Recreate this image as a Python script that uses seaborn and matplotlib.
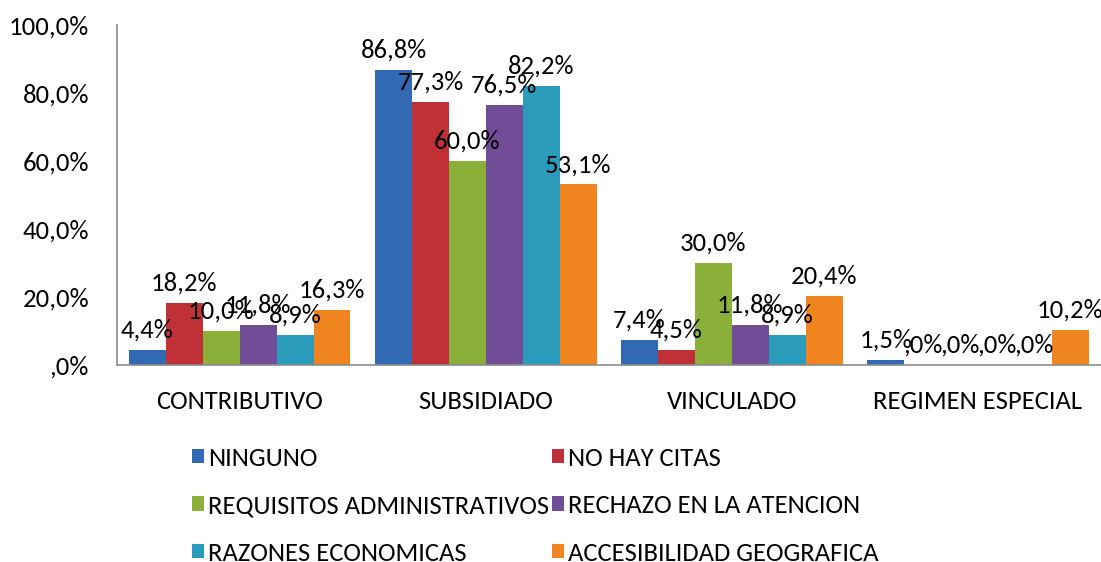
import matplotlib
matplotlib.use("Agg")
import matplotlib.pyplot as plt
import pandas as pd
import seaborn as sns

# ── data ─────────────────────────────────────────────────────────────────────
CATEGORIES = ["CONTRIBUTIVO", "SUBSIDIADO", "VINCULADO", "REGIMEN ESPECIAL"]
SERIES = ["NINGUNO", "NO HAY CITAS", "REQUISITOS ADMINISTRATIVOS",
          "RECHAZO EN LA ATENCION", "RAZONES ECONOMICAS", "ACCESIBILIDAD GEOGRAFICA"]
NINGUNO = [4.4, 86.8, 7.4, 1.5]
NO_HAY_CITAS = [18.2, 77.3, 4.5, 0.0]
REQUISITOS = [10.0, 60.0, 30.0, 0.0]
RECHAZO = [11.8, 76.5, 11.8, 0.0]
RAZONES = [8.9, 82.2, 8.9, 0.0]
ACCESIBILIDAD = [16.3, 53.1, 20.4, 10.2]
Y_TICKS = [0, 20, 40, 60, 80, 100]

COLORS = ["#3169b2", "#bf3136", "#8ab03a", "#704d96", "#2a9bbb", "#f0841f"]


def fmt_pct(v: float) -> str:
    s = f"{v:.1f}".replace(".", ",")
    if s.startswith("0,"):
        s = s[1:]
    return s + "%"


values = [NINGUNO, NO_HAY_CITAS, REQUISITOS, RECHAZO, RAZONES, ACCESIBILIDAD]
rows = []
for name, vals in zip(SERIES, values):
    for cat, v in zip(CATEGORIES, vals):
        rows.append({"categoria": cat, "serie": name, "valor": v})
df = pd.DataFrame(rows)

# ── plot ─────────────────────────────────────────────────────────────────────
sns.set_style("white")
plt.rcParams["font.family"] = ["Carlito", "Liberation Sans", "DejaVu Sans"]
FS = 19.2

fig = plt.figure(figsize=(11.01, 5.62), dpi=100)
ax = fig.add_axes([0.106, 0.3505, 0.894, 0.605])

sns.barplot(data=df, x="categoria", y="valor", hue="serie",
            order=CATEGORIES, hue_order=SERIES, palette=COLORS,
            width=0.9, gap=0, edgecolor="none", saturation=1,
            errorbar=None, ax=ax)

for container in ax.containers:
    labels = [fmt_pct(b.get_height()) for b in container]
    ax.bar_label(container, labels=labels, padding=6, fontsize=FS, color="black")

ax.set_xlim(-0.5, 3.5)
ax.set_ylim(0, 100)
ax.set_yticks(Y_TICKS)
ax.set_yticklabels([fmt_pct(t) for t in Y_TICKS], fontsize=FS)
ax.tick_params(axis="x", labelsize=FS, pad=18, length=0, labelcolor="black")
ax.tick_params(axis="y", pad=20, length=0, labelcolor="black")
ax.set_xlabel("")
ax.set_ylabel("")

for side in ["top", "right"]:
    ax.spines[side].set_visible(False)
for side in ["left", "bottom"]:
    ax.spines[side].set_color("#8c8c8c")
    ax.spines[side].set_linewidth(1.2)

handles, labels = ax.get_legend_handles_labels()
order = [0, 2, 4, 1, 3, 5]
leg = ax.legend([handles[i] for i in order], [labels[i] for i in order],
                ncol=2, loc="upper left", bbox_to_anchor=(0.077, -0.24),
                frameon=False, fontsize=FS, handlelength=0.45, handleheight=0.45,
                handletextpad=0.15, columnspacing=0.1, labelspacing=0.92,
                borderaxespad=0, borderpad=0)
for t in leg.get_texts():
    t.set_color("black")

fig.savefig("out.png", dpi=100)
